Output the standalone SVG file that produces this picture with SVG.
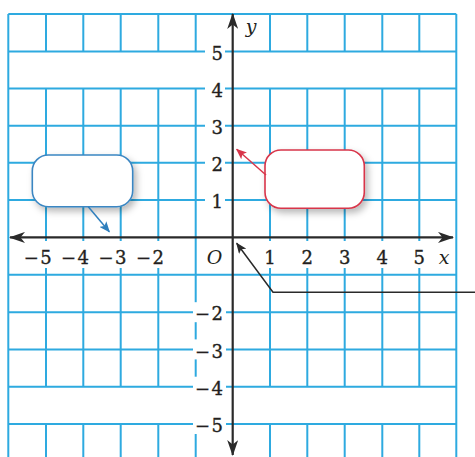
<svg xmlns="http://www.w3.org/2000/svg" width="475" height="457" viewBox="0 0 475 457">
<style>
.grid{stroke:#2eaae0;stroke-width:2;fill:none}
.axis{stroke:#2a2a2a;stroke-width:2.2;fill:none}
.bg{fill:#ffffff}
.lbl{font-family:"DejaVu Serif","Liberation Serif",serif;font-size:18px;fill:#231f20;stroke:#231f20;stroke-width:0.35}
.neg{letter-spacing:1.5px}
.mid{text-anchor:middle}
.it{font-family:"DejaVu Serif","Liberation Serif",serif;font-style:italic;font-size:19px;fill:#231f20;text-anchor:middle}
.box{fill:#ffffff;stroke-width:1.6;filter:url(#sh)}
.conn{fill:none;stroke-width:1.5}
</style>
<defs>
<filter id="sh" x="-20%" y="-30%" width="150%" height="170%">
<feDropShadow dx="3" dy="4" stdDeviation="3.5" flood-color="#000" flood-opacity="0.28"/>
</filter>
<marker id="ax" viewBox="0 0 16 11" refX="15" refY="5.5" markerWidth="16" markerHeight="11" markerUnits="userSpaceOnUse" orient="auto-start-reverse">
<path d="M0,0 L16,5.5 L0,11 L4.5,5.5 z" fill="#2a2a2a"/>
</marker>
<marker id="ab" viewBox="0 0 11 9" refX="10" refY="4.5" markerWidth="11" markerHeight="9" markerUnits="userSpaceOnUse" orient="auto">
<path d="M0,0 L11,4.5 L0,9 L2.5,4.5 z" fill="#2f7fbd"/>
</marker>
<marker id="ar" viewBox="0 0 11 9" refX="10" refY="4.5" markerWidth="11" markerHeight="9" markerUnits="userSpaceOnUse" orient="auto">
<path d="M0,0 L11,4.5 L0,9 L2.5,4.5 z" fill="#d8354a"/>
</marker>
<marker id="ak" viewBox="0 0 11 9" refX="10" refY="4.5" markerWidth="11" markerHeight="9" markerUnits="userSpaceOnUse" orient="auto">
<path d="M0,0 L11,4.5 L0,9 L2.5,4.5 z" fill="#2a2a2a"/>
</marker>
</defs>
<rect width="475" height="457" fill="#ffffff"/>
<g id="grid" class="grid">
<path d="M8.3,14 H456.3 M8.3,51.5 H456.3 M8.3,88.5 H456.3 M8.3,125.8 H456.3 M8.3,162.8 H456.3 M8.3,200 H456.3 M8.3,274.8 H456.3 M8.3,312.2 H456.3 M8.3,349.4 H456.3 M8.3,386.7 H456.3 M8.3,424 H456.3"/>
<path d="M8.3,14 V457 M456.3,14 V457"/>
<path d="M46,14 V51.5 M46,88.5 V386.7 M46,424 V457 M83.3,14 V51.5 M83.3,88.5 V386.7 M83.3,424 V457 M120.7,14 V51.5 M120.7,88.5 V386.7 M120.7,424 V457 M158.3,14 V51.5 M158.3,88.5 V386.7 M158.3,424 V457 M195.7,14 V51.5 M195.7,88.5 V386.7 M195.7,424 V457"/>
<path d="M270,14 V51.5 M270,88.5 V386.7 M270,424 V457 M307.3,14 V51.5 M307.3,88.5 V386.7 M307.3,424 V457 M344.7,14 V51.5 M344.7,88.5 V386.7 M344.7,424 V457 M382.3,14 V51.5 M382.3,88.5 V386.7 M382.3,424 V457 M419.3,14 V51.5 M419.3,88.5 V386.7 M419.3,424 V457"/>
</g>
<g id="label-bg" class="bg">
<rect x="205" y="41.5" width="20" height="20"/>
<rect x="205" y="78.5" width="20" height="20"/>
<rect x="205" y="115.8" width="20" height="20"/>
<rect x="205" y="152.8" width="20" height="20"/>
<rect x="205" y="190" width="20" height="20"/>
<rect x="193" y="302.2" width="33" height="20"/>
<rect x="193" y="339.4" width="33" height="20"/>
<rect x="193" y="376.7" width="33" height="20"/>
<rect x="193" y="414" width="33" height="20"/>
<rect x="21" y="241" width="33" height="27"/>
<rect x="58.3" y="241" width="33" height="27"/>
<rect x="95.7" y="241" width="33" height="27"/>
<rect x="133.3" y="241" width="33" height="27"/>
<rect x="263" y="241" width="14" height="27"/>
<rect x="300.3" y="241" width="14" height="27"/>
<rect x="337.7" y="241" width="14" height="27"/>
<rect x="375.3" y="241" width="14" height="27"/>
<rect x="412.3" y="241" width="14" height="27"/>
</g>
<g id="axes" class="axis">
<path d="M10,237.4 H453" marker-start="url(#ax)" marker-end="url(#ax)"/>
<path d="M232.7,14 V455" marker-start="url(#ax)" marker-end="url(#ax)"/>
</g>
<g id="tick-labels">
<text class="lbl" x="211.5" y="59.7">5</text>
<text class="lbl" x="211.5" y="96.7">4</text>
<text class="lbl" x="211.5" y="134">3</text>
<text class="lbl" x="211.5" y="171">2</text>
<text class="lbl" x="211.5" y="208.2">1</text>
<text class="lbl neg" x="194.9" y="320.4">−2</text>
<text class="lbl neg" x="194.9" y="357.6">−3</text>
<text class="lbl neg" x="194.9" y="394.9">−4</text>
<text class="lbl neg" x="194.9" y="432.2">−5</text>
<text class="lbl neg" x="23.7" y="264">−5</text>
<text class="lbl neg" x="61" y="264">−4</text>
<text class="lbl neg" x="98.4" y="264">−3</text>
<text class="lbl neg" x="136" y="264">−2</text>
<text class="lbl mid" x="270" y="264">1</text>
<text class="lbl mid" x="307.3" y="264">2</text>
<text class="lbl mid" x="344.7" y="264">3</text>
<text class="lbl mid" x="382.3" y="264">4</text>
<text class="lbl mid" x="419.3" y="264">5</text>
<text class="it" x="214.5" y="264">O</text>
<text class="it" x="444" y="264">x</text>
<text class="it" x="251" y="33">y</text>
</g>
<g id="callout-blue">
<rect class="box" x="32.3" y="155" width="100.4" height="51.7" rx="16" stroke="#3a86c2"/>
</g>
<g id="callout-red">
<rect class="box" x="265" y="150" width="99.3" height="58.3" rx="16" stroke="#d8354a"/>
</g>
<g id="connectors">
<path class="conn" d="M88.3,206.7 L109.3,231.7" stroke="#2f7fbd" marker-end="url(#ab)"/>
<path class="conn" d="M266,175 L236.7,149.3" stroke="#d8354a" marker-end="url(#ar)"/>
<path class="conn" d="M475,292.3 H273 L236.7,243.3" stroke="#2a2a2a" stroke-width="1.3" marker-end="url(#ak)"/>
</g>
</svg>
